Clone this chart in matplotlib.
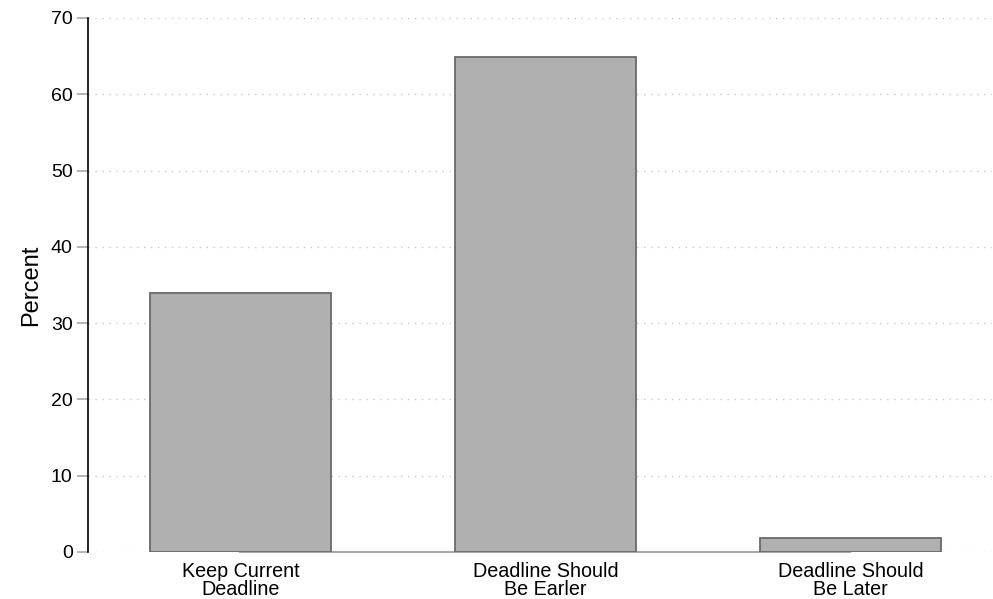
import matplotlib.pyplot as plt

categories = ["Keep Current\nDeadline", "Deadline Should\nBe Earler", "Deadline Should\nBe Later"]
percent = [33.9, 64.9, 1.8]
yticks = [0, 10, 20, 30, 40, 50, 60, 70]

plt.rcParams['font.family'] = ['Liberation Sans', 'DejaVu Sans']

fig = plt.figure(figsize=(9.93, 5.99), dpi=100)
ax = fig.add_axes([88 / 993, 47 / 599, 904 / 993, 534 / 599])

x = list(range(len(categories)))
ax.bar(x, percent, width=0.593, color='#b0b0b0', edgecolor='#6a6a6a',
       linewidth=1.3, zorder=3)

ax.set_xlim(-0.5, 2.464)
ax.set_ylim(0, 70)
ax.set_yticks(yticks)
ax.set_xticks(x)
ax.set_xticklabels(categories, fontsize=14.2, linespacing=0.93)
ax.tick_params(axis='x', length=0, pad=7.5)
ax.tick_params(axis='y', length=8, width=1.2, color='#a8a8a8', labelsize=14, pad=3)
ax.set_ylabel("Percent", fontsize=17, labelpad=6)

ax.grid(axis='y', linestyle=(0, (1, 4)), color='#c8c8c8', linewidth=1, zorder=0)
ax.grid(axis='x', visible=False)

for s in ['top', 'right', 'bottom']:
    ax.spines[s].set_visible(False)
ax.spines['left'].set_linewidth(1.2)
ax.spines['left'].set_color('black')

# x axis line spans first to last category
ax.plot([x[0], x[-1]], [0, 0], color='#a8a8a8', linewidth=1.5, zorder=2,
        clip_on=False)

fig.savefig("out.png", dpi=100)
